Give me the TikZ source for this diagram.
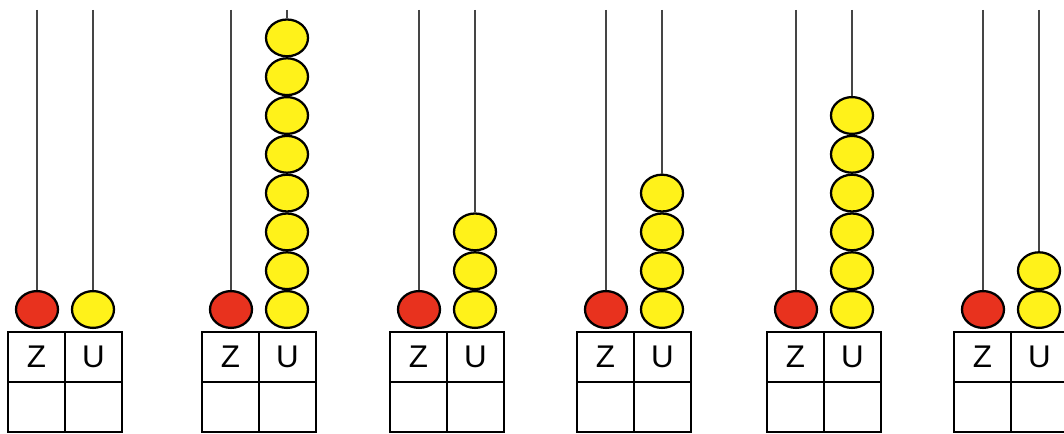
\documentclass[tikz,border=0pt]{standalone}
\usepackage{fontspec}
\setmainfont{Liberation Sans}
\usetikzlibrary{shapes.geometric}
\definecolor{beadred}{HTML}{E8321E}
\definecolor{beadyellow}{HTML}{FFF21A}
\definecolor{rodgray}{HTML}{454545}
\begin{document}
\begin{tikzpicture}[x=0.75pt,y=-0.75pt,
  bead/.style={ellipse, draw=black, line width=1.7pt, inner sep=0pt,
    minimum width=31.5pt, minimum height=27.6pt},
  redbead/.style={bead, fill=beadred},
  yellowbead/.style={bead, fill=beadyellow},
  rod/.style={draw=rodgray, line width=1.5pt},
  cell/.style={rectangle, draw=black, line width=1.8pt, inner sep=0pt,
    minimum width=42.75pt, minimum height=37.5pt,
    font=\fontsize{23.5}{23.5}\selectfont}]
\useasboundingbox (0,0) rectangle (1064,434);
\fill[white] (0,0) rectangle (1064,434);
\foreach \i/\x/\n in {1/37/1, 2/231/8, 3/419/3, 4/606/4, 5/796/6, 6/983/2} {
  % table
  \node[cell] (zh\i) at (\x-0.5,357) {Z};
  \node[cell] (uh\i) at (\x+56.5,357) {U};
  \node[cell] (zc\i) at (\x-0.5,407) {};
  \node[cell] (uc\i) at (\x+56.5,407) {};
  % rod tops
  \coordinate (zt\i) at (\x,10);
  \coordinate (ut\i) at (\x+56,10);
  % beads
  \node[redbead] (zb\i) at (\x,309.5) {};
  \foreach \k in {1,...,\n} {
    \node[yellowbead] (ub\i-\k) at (\x+56,{309.5-(\k-1)*38.8}) {};
  }
  % rods
  \draw[rod] (zt\i) -- (zb\i);
  \draw[rod] (ut\i) -- (ub\i-\n);
}
\end{tikzpicture}
\end{document}
